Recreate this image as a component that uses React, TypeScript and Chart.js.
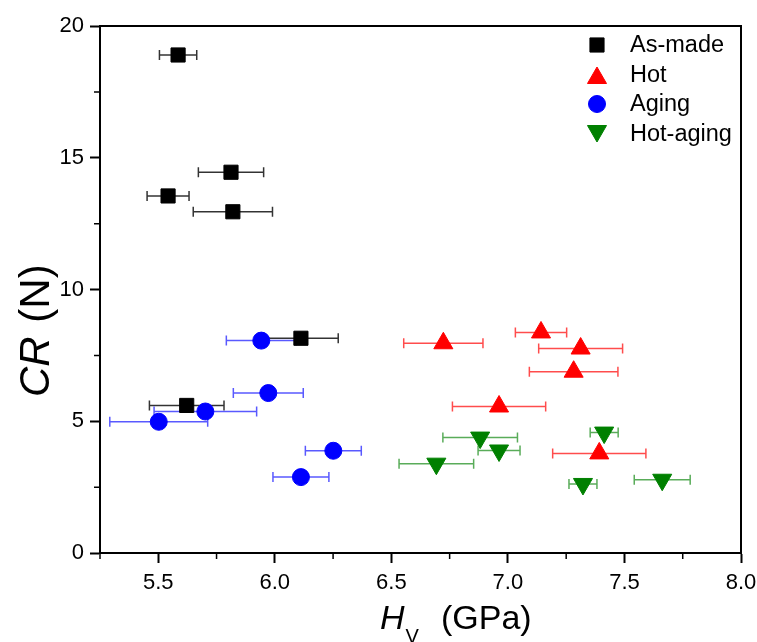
import React, { useEffect, useRef } from 'react';
import { Chart, registerables } from 'chart.js';

Chart.register(...registerables);

// ---- Data ----
const seriesNames = ['As-made', 'Hot', 'Aging', 'Hot-aging'];

const asMadeHv = [5.585, 5.812, 5.542, 5.82, 6.112, 5.622];
const asMadeCR = [18.9, 14.45, 13.55, 12.95, 8.15, 5.6];
const asMadeErr = [0.08, 0.14, 0.09, 0.17, 0.16, 0.16];

const hotHv = [6.723, 7.142, 7.312, 7.282, 6.962, 7.392];
const hotCR = [7.96, 8.37, 7.76, 6.88, 5.56, 3.78];
const hotErr = [0.17, 0.11, 0.18, 0.19, 0.2, 0.2];

const agingHv = [5.942, 5.972, 5.702, 5.502, 6.251, 6.112];
const agingCR = [8.06, 6.07, 5.37, 4.98, 3.88, 2.88];
const agingErr = [0.15, 0.15, 0.22, 0.21, 0.12, 0.12];

const hotAgingHv = [6.881, 6.962, 6.693, 7.413, 7.322, 7.662];
const hotAgingCR = [4.38, 3.89, 3.39, 4.57, 2.62, 2.78];
const hotAgingErr = [0.16, 0.09, 0.16, 0.06, 0.06, 0.12];

const xMajorTicks = [5.5, 6.0, 6.5, 7.0, 7.5, 8.0];
const xMinorTicks = [5.25, 5.75, 6.25, 6.75, 7.25, 7.75];
const yMajorTicks = [0, 5, 10, 15, 20];
const yMinorTicks = [2.5, 7.5, 12.5, 17.5];

const xMin = 5.25;
const xMax = 8.0;
const yMin = 0;
const yMax = 20;

// ---- Styles ----
const markerColors = ['#000000', '#FF0000', '#0000FF', '#008000'];
const errColors = ['rgba(0,0,0,0.8)', 'rgba(255,0,0,0.7)', 'rgba(0,0,255,0.65)', 'rgba(0,128,0,0.65)'];
const markerStyles = ['rect', 'triangle', 'circle', 'triangle'];
const markerRotations = [0, 0, 0, 180];
const markerRadii = [10, 11, 8.5, 11];

const FONT = '"Liberation Sans", Arial, Helvetica, sans-serif';

const allHv = [asMadeHv, hotHv, agingHv, hotAgingHv];
const allCR = [asMadeCR, hotCR, agingCR, hotAgingCR];
const allErr = [asMadeErr, hotErr, agingErr, hotAgingErr];

function drawMarker(ctx: CanvasRenderingContext2D, style: string, x: number, y: number, r: number, rot: number, color: string) {
  ctx.save();
  ctx.fillStyle = color;
  ctx.strokeStyle = color;
  ctx.lineWidth = 1;
  ctx.beginPath();
  if (style === 'rect') {
    const s = Math.SQRT1_2 * r;
    ctx.rect(x - s, y - s, 2 * s, 2 * s);
  } else if (style === 'circle') {
    ctx.arc(x, y, r, 0, Math.PI * 2);
  } else {
    let rad = (rot * Math.PI) / 180;
    for (let k = 0; k < 3; k++) {
      const px = x + Math.sin(rad) * r;
      const py = y - Math.cos(rad) * r;
      if (k === 0) ctx.moveTo(px, py);
      else ctx.lineTo(px, py);
      rad += (2 * Math.PI) / 3;
    }
    ctx.closePath();
  }
  ctx.fill();
  ctx.stroke();
  ctx.restore();
}

const errorBarPlugin = {
  id: 'errorBars',
  beforeDatasetsDraw(chart: any) {
    const ctx = chart.ctx as CanvasRenderingContext2D;
    const xs = chart.scales.x;
    const ys = chart.scales.y;
    const cap = 5;
    ctx.save();
    ctx.lineWidth = 1.5;
    chart.data.datasets.forEach((ds: any, di: number) => {
      const errs = allErr[di];
      ctx.strokeStyle = errColors[di];
      ds.data.forEach((p: any, i: number) => {
        const x1 = xs.getPixelForValue(p.x - errs[i]);
        const x2 = xs.getPixelForValue(p.x + errs[i]);
        const y = ys.getPixelForValue(p.y);
        ctx.beginPath();
        ctx.moveTo(x1, y);
        ctx.lineTo(x2, y);
        ctx.moveTo(x1, y - cap);
        ctx.lineTo(x1, y + cap);
        ctx.moveTo(x2, y - cap);
        ctx.lineTo(x2, y + cap);
        ctx.stroke();
      });
    });
    ctx.restore();
  },
};

const framePlugin = {
  id: 'frameAndExtras',
  afterDraw(chart: any) {
    const ctx = chart.ctx as CanvasRenderingContext2D;
    const { left, right, top, bottom } = chart.chartArea;
    const xs = chart.scales.x;
    const ys = chart.scales.y;
    ctx.save();
    // frame top and right
    ctx.strokeStyle = '#000';
    ctx.lineWidth = 2;
    ctx.beginPath();
    ctx.moveTo(left - 1, top);
    ctx.lineTo(right, top);
    ctx.lineTo(right, bottom + 1);
    ctx.stroke();

    // minor ticks
    ctx.lineWidth = 1.5;
    ctx.beginPath();
    xMinorTicks.forEach((v) => {
      const px = xs.getPixelForValue(v);
      ctx.moveTo(px, bottom);
      ctx.lineTo(px, bottom + 6);
    });
    yMinorTicks.forEach((v) => {
      const py = ys.getPixelForValue(v);
      ctx.moveTo(left, py);
      ctx.lineTo(left - 6, py);
    });
    ctx.stroke();

    // legend
    ctx.textBaseline = 'middle';
    ctx.textAlign = 'left';
    ctx.fillStyle = '#000';
    ctx.font = `23.5px ${FONT}`;
    const rowOffsets = [19, 49, 78, 108];
    seriesNames.forEach((name, i) => {
      const yy = top + rowOffsets[i];
      let my = yy;
      if (markerStyles[i] === 'triangle') my = markerRotations[i] === 180 ? yy - 3 : yy + 3;
      drawMarker(ctx, markerStyles[i], right - 144, my, markerRadii[i], markerRotations[i], markerColors[i]);
      ctx.fillStyle = '#000';
      ctx.fillText(name, right - 111, yy + 1);
    });

    // x axis title: H_V (GPa)
    ctx.textBaseline = 'alphabetic';
    const xt = left + 280;
    const yb = bottom + 76;
    ctx.font = `italic 34px ${FONT}`;
    ctx.fillText('H', xt, yb);
    const hw = ctx.measureText('H').width;
    ctx.font = `20px ${FONT}`;
    ctx.fillText('V', xt + hw + 1, yb + 14);
    ctx.font = `34px ${FONT}`;
    ctx.fillText('(GPa)', xt + 61, yb);

    // y axis title: CR (N)
    ctx.save();
    ctx.translate(left - 51, bottom - 156);
    ctx.rotate(-Math.PI / 2);
    ctx.font = `italic 42px ${FONT}`;
    ctx.fillText('CR', 0, 0);
    const crw = ctx.measureText('CR').width;
    ctx.font = `42px ${FONT}`;
    ctx.fillText(' (N)', crw + 2, 0);
    ctx.restore();

    ctx.restore();
  },
};

function zeroPadding(scale: any) {
  scale.paddingLeft = 0;
  scale.paddingRight = 0;
  scale.paddingTop = 0;
  scale.paddingBottom = 0;
}

export default function App() {
  const canvasRef = useRef<HTMLCanvasElement | null>(null);

  useEffect(() => {
    document.body.style.margin = '0';
    const canvas = canvasRef.current;
    if (!canvas) return;

    const datasets = seriesNames.map((name, di) => ({
      label: name,
      data: allHv[di].map((x, i) => ({ x, y: allCR[di][i] })),
      pointStyle: markerStyles[di] as any,
      rotation: markerRotations[di],
      pointRadius: markerRadii[di],
      pointHoverRadius: markerRadii[di],
      backgroundColor: markerColors[di],
      borderColor: markerColors[di],
      borderWidth: 1,
      showLine: false,
      order: 3 - di,
    }));

    const chart = new Chart(canvas, {
      type: 'scatter',
      data: { datasets },
      options: {
        animation: false,
        responsive: false,
        devicePixelRatio: 1,
        layout: { padding: { top: 26, right: 16, left: 0, bottom: 0 } },
        plugins: {
          legend: { display: false },
          tooltip: { enabled: false },
          title: { display: false },
        },
        scales: {
          x: {
            type: 'linear',
            min: xMin,
            max: xMax,
            afterBuildTicks: (scale: any) => {
              scale.ticks = xMajorTicks.map((v) => ({ value: v }));
            },
            afterFit: (scale: any) => {
              scale.height = 89;
              zeroPadding(scale);
            },
            ticks: {
              color: '#000',
              font: { family: FONT, size: 22 },
              padding: 7,
              maxRotation: 0,
              autoSkip: false,
              callback: (v: any) => Number(v).toFixed(1),
            },
            grid: {
              display: true,
              drawOnChartArea: false,
              drawTicks: true,
              tickLength: 10,
              tickWidth: 2,
              tickColor: '#000',
            },
            border: { display: true, color: '#000', width: 2 },
          },
          y: {
            type: 'linear',
            min: yMin,
            max: yMax,
            afterBuildTicks: (scale: any) => {
              scale.ticks = yMajorTicks.map((v) => ({ value: v }));
            },
            afterFit: (scale: any) => {
              scale.width = 100;
              zeroPadding(scale);
            },
            ticks: {
              color: '#000',
              font: { family: FONT, size: 22 },
              padding: 6,
              autoSkip: false,
              callback: (v: any) => String(v),
            },
            grid: {
              display: true,
              drawOnChartArea: false,
              drawTicks: true,
              tickLength: 10,
              tickWidth: 2,
              tickColor: '#000',
            },
            border: { display: true, color: '#000', width: 2 },
          },
        },
      },
      plugins: [errorBarPlugin, framePlugin],
    });

    return () => {
      chart.destroy();
    };
  }, []);

  return (
    <canvas
      ref={canvasRef}
      width={757}
      height={642}
      style={{ display: 'block', width: '757px', height: '642px' }}
    />
  );
}
